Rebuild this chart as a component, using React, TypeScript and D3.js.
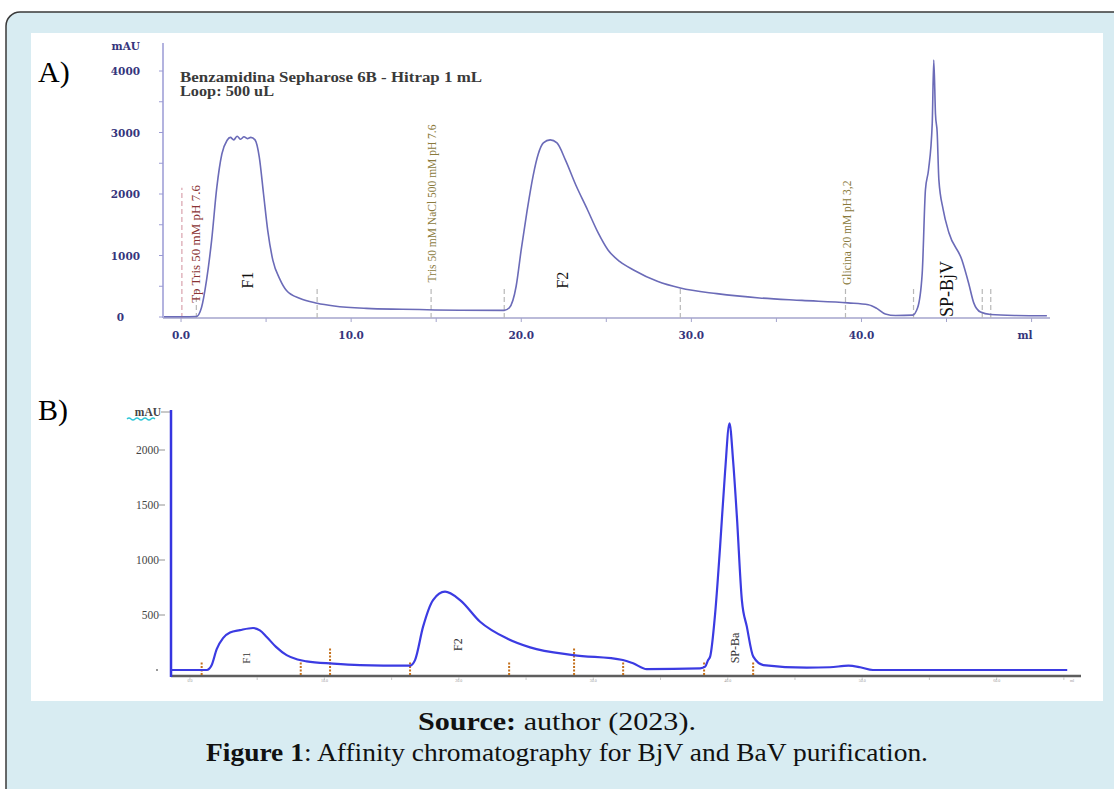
import React, { useEffect, useRef } from 'react';
import * as d3 from 'd3';

// Panel A - Benzamidina Sepharose 6B (volume ml, absorbance mAU)
const volA = [-1.0, 0.0, 0.9, 1.2, 1.5, 1.8, 2.1, 2.4, 2.7, 2.9, 3.1, 3.3, 3.5, 3.7, 3.9, 4.1, 4.35, 4.6, 4.85, 5.1, 5.4, 5.8, 6.2, 7.0, 8.0, 9.0, 10.9, 13.0, 16.4, 19.0, 19.3, 19.7, 20.0, 20.35, 20.7, 21.0, 21.3, 21.7, 22.1, 22.6, 23.2, 23.9, 24.5, 25.1, 25.8, 26.6, 28.0, 29.35, 31.5, 34.0, 36.5, 39.2, 40.4, 40.9, 41.4, 42.0, 43.0, 43.3, 43.57, 43.76, 43.94, 44.16, 44.25, 44.35, 44.45, 44.55, 44.8, 45.14, 45.9, 46.3, 46.6, 47.0, 47.6, 49.0, 50.9];
const absA = [5, 5, 8, 150, 600, 1250, 2100, 2650, 2870, 2920, 2880, 2940, 2890, 2930, 2900, 2920, 2880, 2600, 2000, 1400, 920, 620, 430, 300, 225, 180, 140, 125, 110, 108, 150, 500, 1100, 1740, 2300, 2650, 2830, 2880, 2830, 2550, 2150, 1740, 1380, 1090, 900, 765, 580, 470, 380, 310, 270, 230, 200, 140, 50, 25, 30, 150, 710, 2070, 2390, 3150, 4180, 3300, 3000, 2230, 1750, 1370, 930, 550, 230, 80, 40, 25, 20];
const markA = [0.05, 0.9, 8.0, 14.7, 19.0, 29.35, 39.06, 43.06, 47.1, 47.6];
const markATop = [2100, 500, 500, 500, 500, 480, 500, 500, 500, 500];
const ticksAx = [0, 10, 20, 30, 40];
const ticksAy = [0, 1000, 2000, 3000, 4000];

// Panel B - second venom run
const volB = [-1.41, 1.26, 1.6, 1.99, 2.46, 2.98, 3.72, 4.69, 5.2, 5.71, 6.4, 7.19, 8.0, 8.68, 10.64, 12.65, 16.12, 16.37, 16.74, 17.34, 18.08, 18.97, 20.09, 21.58, 23.56, 25.3, 28.5, 32.2, 32.96, 33.98, 37.95, 38.32, 38.54, 38.69, 39.06, 39.43, 39.8, 40.13, 40.4, 40.68, 41.05, 41.42, 41.9, 42.65, 45.88, 47.6, 48.98, 49.85, 50.8, 65.25];
const absB = [0, 0, 40, 190, 290, 340, 362, 382, 360, 300, 210, 135, 95, 78, 58, 45, 39, 40, 90, 394, 636, 712, 636, 439, 288, 206, 136, 91, 61, 8, 15, 30, 91, 121, 510, 1120, 1800, 2243, 1900, 1394, 636, 394, 121, 45, 21, 25, 39, 25, 0, 0];
const markB = [0.87, 8.24, 10.42, 16.37, 23.74, 28.57, 32.22, 38.24, 41.89];
const markBTop = [80, 80, 200, 80, 80, 200, 80, 80, 80];
const ticksBx = [0, 10, 20, 30, 40, 50, 60];
const ticksBy = [500, 1000, 1500, 2000];

const serif = '"Liberation Serif", "Times New Roman", serif';
const wide = '"DejaVu Serif", serif';

const App = () => {
  const svgRef = useRef<SVGSVGElement>(null);

  useEffect(() => {
    const svg = d3.select(svgRef.current);
    svg.selectAll('*').remove();

    // page frame
    svg.append('rect').attr('width', 1114).attr('height', 789).attr('fill', '#ffffff');
    svg.append('rect')
      .attr('x', 6).attr('y', 12).attr('width', 1200).attr('height', 900).attr('rx', 14)
      .attr('fill', '#d8ecf2').attr('stroke', '#3a3a3a').attr('stroke-width', 1.5);
    svg.append('rect').attr('x', 31).attr('y', 33).attr('width', 1072).attr('height', 668).attr('fill', '#ffffff');

    // ---------- Panel A ----------
    const xA = d3.scaleLinear().domain([-1.06, 51.2]).range([163, 1052]);
    const yA = d3.scaleLinear().domain([0, 4000]).range([317, 71]);
    const gA = svg.append('g');

    gA.append('text').attr('x', 38).attr('y', 82).attr('font-family', serif).attr('font-size', 30).text('A)');
    gA.append('text').attr('x', 180).attr('y', 82).attr('font-family', serif).attr('font-size', 14)
      .attr('font-weight', 'bold').attr('fill', '#3a3a3a')
      .attr('textLength', 302).attr('lengthAdjust', 'spacingAndGlyphs')
      .text('Benzamidina Sepharose 6B - Hitrap 1 mL');
    gA.append('text').attr('x', 180).attr('y', 96).attr('font-family', serif).attr('font-size', 14)
      .attr('font-weight', 'bold').attr('fill', '#3a3a3a')
      .attr('textLength', 94).attr('lengthAdjust', 'spacingAndGlyphs').text('Loop: 500 uL');

    // y axis
    gA.append('line').attr('x1', 163).attr('x2', 163).attr('y1', 43).attr('y2', 318)
      .attr('stroke', '#9a9ad4').attr('stroke-width', 1.5);
    gA.selectAll('.ytA').data(d3.range(0, 4500, 500)).join('line')
      .attr('x1', 159).attr('x2', 163).attr('y1', d => yA(d)).attr('y2', d => yA(d))
      .attr('stroke', '#9a9ad4');
    gA.selectAll('.ylA').data(ticksAy).join('text')
      .attr('x', d => d === 0 ? 124 : 140).attr('y', d => yA(d) + 4).attr('text-anchor', 'end')
      .attr('font-family', wide).attr('font-size', 10.5).attr('font-weight', 'bold').attr('fill', '#35357c')
      .text(d => String(d));
    gA.append('text').attr('x', 140).attr('y', 50).attr('text-anchor', 'end')
      .attr('font-family', wide).attr('font-size', 10.5).attr('font-weight', 'bold').attr('fill', '#35357c').text('mAU');

    // x axis
    gA.append('line').attr('x1', 163).attr('x2', 1050).attr('y1', 318).attr('y2', 318)
      .attr('stroke', '#a4a4cc').attr('stroke-width', 1.5);
    gA.selectAll('.xtA').data(d3.range(0, 55, 5)).join('line')
      .attr('x1', d => xA(d)).attr('x2', d => xA(d)).attr('y1', 318).attr('y2', 322)
      .attr('stroke', '#a4a4cc');
    gA.selectAll('.xlA').data(ticksAx).join('text')
      .attr('x', d => xA(d)).attr('y', 339).attr('text-anchor', 'middle')
      .attr('font-family', wide).attr('font-size', 10.5).attr('font-weight', 'bold').attr('fill', '#35357c')
      .text(d => d.toFixed(1));
    gA.append('text').attr('x', 1025).attr('y', 339).attr('text-anchor', 'middle')
      .attr('font-family', wide).attr('font-size', 10.5).attr('font-weight', 'bold').attr('fill', '#35357c').text('ml');

    // fraction/injection markers
    gA.selectAll('.mkA').data(markA).join('line')
      .attr('x1', d => xA(d)).attr('x2', d => xA(d))
      .attr('y1', 318).attr('y2', (d, i) => yA(markATop[i]))
      .attr('stroke', (d, i) => i === 0 ? '#d9a3ad' : '#b8b8b8')
      .attr('stroke-width', 1.2).attr('stroke-dasharray', '5,3');

    // trace
    const lineA = d3.line<number>().x((d, i) => xA(volA[i])).y(d => yA(d)).curve(d3.curveMonotoneX);
    gA.append('path').datum(absA).attr('d', lineA).attr('fill', 'none')
      .attr('stroke', '#6b6bb8').attr('stroke-width', 1.6);

    const rot = (g: any, txt: string, x: number, y: number, size: number, color: string, anchor = 'start') => {
      g.append('text').attr('transform', `translate(${x},${y}) rotate(-90)`)
        .attr('text-anchor', anchor).attr('dy', '0.35em')
        .attr('font-family', serif).attr('font-size', size).attr('fill', color).text(txt);
    };
    rot(gA, 'Tp Tris 50 mM pH 7.6', xA(0.85), yA(230), 13, '#8a3434');
    rot(gA, 'Tris 50 mM NaCl 500 mM pH 7.6', xA(14.75), yA(560), 11.5, '#8a7a3c');
    rot(gA, 'Glicina 20 mM pH 3,2', xA(39.15), yA(520), 11.5, '#8a7a3c');
    rot(gA, 'F1', xA(3.9), yA(600), 16, '#111', 'middle');
    rot(gA, 'F2', xA(22.4), yA(600), 16, '#111', 'middle');
    rot(gA, 'SP-BjV', xA(45.0), yA(0), 18, '#111');

    // ---------- Panel B ----------
    const xB = d3.scaleLinear().domain([-1.41, 66.2]).range([171, 1080]);
    const yB = d3.scaleLinear().domain([0, 2000]).range([670, 450]);
    const gB = svg.append('g');

    gB.append('text').attr('x', 38).attr('y', 420).attr('font-family', serif).attr('font-size', 30).text('B)');

    gB.selectAll('.ylB').data(ticksBy).join('text')
      .attr('x', 159).attr('y', d => yB(d) + 4).attr('text-anchor', 'end')
      .attr('font-family', serif).attr('font-size', 11.5).attr('fill', '#444').text(d => String(d));
    gB.selectAll('.ytB').data(ticksBy).join('line')
      .attr('x1', 159).attr('x2', 165).attr('y1', d => yB(d)).attr('y2', d => yB(d))
      .attr('stroke', '#777').attr('stroke-width', 0.8);
    gB.append('text').attr('x', 161).attr('y', 416).attr('text-anchor', 'end')
      .attr('font-family', serif).attr('font-size', 11.5).attr('font-weight', 'bold').attr('fill', '#444').text('mAU');
    gB.append('line').attr('x1', 161).attr('x2', 170).attr('y1', 412).attr('y2', 412).attr('stroke', '#777').attr('stroke-width', 0.8);
    gB.append('path').attr('d', 'M127,419 q2,-2 4,0 t4,0 t4,0 t4,0 t4,0 t4,0 t4,0')
      .attr('fill', 'none').attr('stroke', '#2fc6d6').attr('stroke-width', 1.3);
    gB.append('circle').attr('cx', 157).attr('cy', yB(0)).attr('r', 1).attr('fill', '#777');

    // axes
    gB.append('line').attr('x1', 171).attr('x2', 1081).attr('y1', 676).attr('y2', 676)
      .attr('stroke', '#5e5e5e').attr('stroke-width', 2.4);
    gB.selectAll('.xtB').data(d3.range(0, 70, 5)).join('line')
      .attr('x1', d => xB(d)).attr('x2', d => xB(d)).attr('y1', 677).attr('y2', 680)
      .attr('stroke', '#bbb').attr('stroke-width', 0.8);
    gB.selectAll('.xlB').data(ticksBx).join('text')
      .attr('x', d => xB(d)).attr('y', 682).attr('text-anchor', 'middle')
      .attr('font-family', serif).attr('font-size', 4).attr('fill', '#999').text(d => d.toFixed(1));
    gB.append('text').attr('x', 1072).attr('y', 682).attr('text-anchor', 'middle')
      .attr('font-family', serif).attr('font-size', 4).attr('fill', '#999').text('ml');
    gB.append('line').attr('x1', 171).attr('x2', 171).attr('y1', 410).attr('y2', 677)
      .attr('stroke', '#3535e0').attr('stroke-width', 2.5);

    // fraction markers
    gB.selectAll('.mkB').data(markB).join('line')
      .attr('x1', d => xB(d)).attr('x2', d => xB(d))
      .attr('y1', 675).attr('y2', (d, i) => yB(markBTop[i]))
      .attr('stroke', '#c4701c').attr('stroke-width', 2).attr('stroke-dasharray', '2,1.5');

    const lineB = d3.line<number>().x((d, i) => xB(volB[i])).y(d => yB(d)).curve(d3.curveMonotoneX);
    gB.append('path').datum(absB).attr('d', lineB).attr('fill', 'none')
      .attr('stroke', '#3b3be2').attr('stroke-width', 2.2);

    rot(gB, 'F1', xB(4.2), yB(110), 11, '#333', 'middle');
    rot(gB, 'F2', xB(19.9), yB(230), 12, '#333', 'middle');
    rot(gB, 'SP-Ba', xB(40.55), yB(200), 12, '#333', 'middle');

    // caption
    svg.append('text').attr('x', 557).attr('y', 730).attr('text-anchor', 'middle')
      .attr('font-family', serif).attr('font-size', 25).attr('fill', '#111')
      .attr('textLength', 278).attr('lengthAdjust', 'spacingAndGlyphs')
      .call(t => {
        t.append('tspan').attr('font-weight', 'bold').text('Source:');
        t.append('tspan').text(' author (2023).');
      });
    svg.append('text').attr('x', 567).attr('y', 761).attr('text-anchor', 'middle')
      .attr('font-family', serif).attr('font-size', 25).attr('fill', '#111')
      .attr('textLength', 722).attr('lengthAdjust', 'spacingAndGlyphs')
      .call(t => {
        t.append('tspan').attr('font-weight', 'bold').text('Figure 1');
        t.append('tspan').text(': Affinity chromatography for BjV and BaV purification.');
      });
  }, []);

  return (
    <div>
      <svg ref={svgRef} width={1114} height={789} style={{ position: 'absolute', left: 0, top: 0 }}></svg>
    </div>
  );
};

export default App;
